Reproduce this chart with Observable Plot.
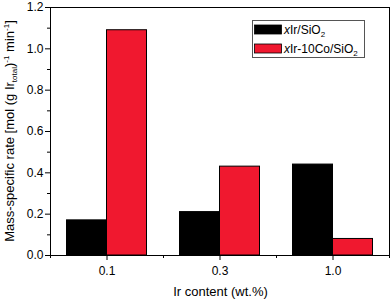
<!DOCTYPE html>
<html>
<head>
<meta charset="utf-8">
<script src="https://cdn.jsdelivr.net/npm/d3@7"></script>
<script src="https://cdn.jsdelivr.net/npm/@observablehq/plot@0.6"></script>
<style>
  html, body { margin: 0; padding: 0; background: #fff; }
  #chart svg { display: block; }
</style>
</head>
<body>
<div id="chart"></div>
<script>
// ---- data ----
const categories = ["0.1", "0.3", "1.0"];
const seriesNames = ["xIr/SiO2", "xIr-10Co/SiO2"];
const seriesColors = ["#000000", "#f0182f"];
const irSiO2 = [0.17, 0.21, 0.44];
const irCoSiO2 = [1.09, 0.43, 0.08];
const yMajorTicks = [0, 0.2, 0.4, 0.6, 0.8, 1.0, 1.2];
const yMinorTicks = [0.1, 0.3, 0.5, 0.7, 0.9, 1.1];

// table built from arrays
const rows = [];
categories.forEach((c, i) => {
  rows.push({cat: c, idx: i, series: seriesNames[0], value: irSiO2[i], slot: 0});
  rows.push({cat: c, idx: i, series: seriesNames[1], value: irCoSiO2[i], slot: 1});
});

const barFrac = 40 / 113; // width of one bar as fraction of a category band
const W = 392, H = 300;
const mL = 50, mR = 3, mT = 7, mB = 45;

const plot = Plot.plot({
  width: W, height: H,
  marginLeft: mL, marginRight: mR, marginTop: mT, marginBottom: mB,
  style: {fontFamily: "'Liberation Sans', Arial, sans-serif", fontSize: "12px", color: "black", background: "white"},
  x: {type: "linear", domain: [0, categories.length], axis: null},
  y: {domain: [0, 1.2], axis: null},
  color: {domain: seriesNames, range: seriesColors},
  marks: [
    Plot.rectY(rows, {
      x1: d => d.idx + 0.5 - barFrac + d.slot * barFrac,
      x2: d => d.idx + 0.5 + d.slot * barFrac,
      y1: 0, y2: "value",
      fill: "series", stroke: "black", strokeWidth: 1
    }),
    Plot.frame({stroke: "black", strokeWidth: 1}),
    Plot.axisX({ticks: categories.map((c, i) => i + 0.5), tickFormat: v => categories[Math.floor(v)], tickSize: 5, tickPadding: 6, label: null, stroke: "black"}),
    Plot.axisX({ticks: d3.range(0, categories.length + 1), tickFormat: () => "", tickSize: 3, label: null}),
    Plot.axisY({ticks: yMajorTicks, tickFormat: d3.format(".1f"), tickSize: 5, tickPadding: 2, label: null}),
    Plot.axisY({ticks: yMinorTicks, tickFormat: () => "", tickSize: 3, label: null})
  ]
});

document.getElementById("chart").appendChild(plot);
const svg = d3.select(plot);
const font = "'Liberation Sans', Arial, sans-serif";

// x axis title
svg.append("text")
  .attr("x", (mL + W - mR) / 2 + 1)
  .attr("y", 296)
  .attr("text-anchor", "middle")
  .attr("font-family", font)
  .attr("font-size", 13)
  .attr("fill", "black")
  .text("Ir content (wt.%)");

// y axis title with sub/superscripts
const yt = svg.append("text")
  .attr("transform", `translate(14,${(mT + H - mB) / 2}) rotate(-90)`)
  .attr("text-anchor", "middle")
  .attr("font-family", font)
  .attr("font-size", 13)
  .attr("fill", "black");
yt.append("tspan").text("Mass-specific rate [mol (g Ir");
yt.append("tspan").attr("font-size", 8).attr("dy", 3).text("total");
yt.append("tspan").attr("dy", -3).text(")");
yt.append("tspan").attr("font-size", 8).attr("dy", -5).text("-1");
yt.append("tspan").attr("dy", 5).text(" min");
yt.append("tspan").attr("font-size", 8).attr("dy", -5).text("-1");
yt.append("tspan").attr("dy", 5).text("]");

// legend
const color = plot.scale("color");
const lg = svg.append("g").attr("text-anchor", "start");
lg.append("rect").attr("x", 252.5).attr("y", 20.5).attr("width", 112).attr("height", 37)
  .attr("fill", "white").attr("stroke", "#555").attr("stroke-width", 1);
color.domain.forEach((s, i) => {
  const y0 = 25 + i * 19;
  lg.append("rect").attr("x", 254.5).attr("y", y0).attr("width", 27).attr("height", 9)
    .attr("fill", color.range[i]).attr("stroke", "black").attr("stroke-width", 0.8);
  const t = lg.append("text").attr("x", 284).attr("y", y0 + 9)
    .attr("text-anchor", "start")
    .attr("font-family", font).attr("font-size", 12).attr("fill", "black");
  t.append("tspan").attr("font-style", "italic").text("x");
  t.append("tspan").text(s.slice(1, -1));
  t.append("tspan").attr("font-size", 8).attr("dy", 3).text(s.slice(-1));
});
</script>
</body>
</html>
